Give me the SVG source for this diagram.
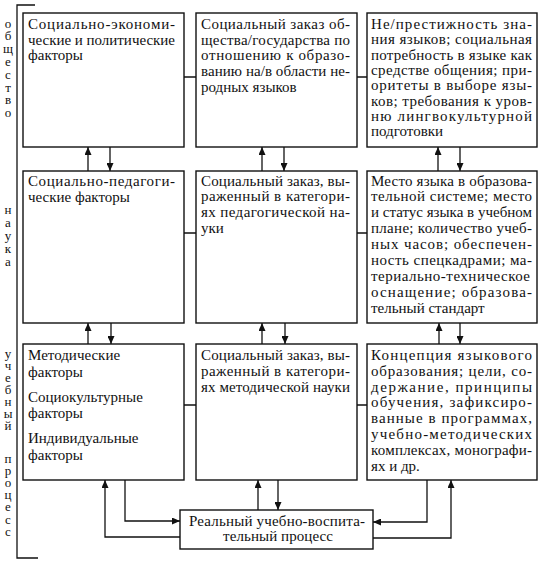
<svg xmlns="http://www.w3.org/2000/svg" width="542" height="564" viewBox="0 0 542 564">
<defs>
<style>
.box{fill:#fff;stroke:#111;stroke-width:1.4}
.ln{fill:none;stroke:#111;stroke-width:1.3}
text{font-family:"Liberation Serif","Times New Roman",serif;font-size:15px;fill:#111}
.v{font-size:13px;writing-mode:vertical-rl;text-orientation:upright}
</style>
<marker id="ah" markerUnits="userSpaceOnUse" markerWidth="8" markerHeight="7" refX="8" refY="3.5" orient="auto">
<path d="M0,0 L8,3.5 L0,7 z" fill="#111"/>
</marker>
</defs>
<rect width="542" height="564" fill="#fff"/>

<g id="side">
<path class="ln" d="M35,5 H17 V558 H38"/>
<text class="v" x="8" y="15.5" letter-spacing="-2.2">общество</text>
<text class="v" x="8" y="201.5" letter-spacing="-2">наука</text>
<text class="v" x="8" y="345.5" letter-spacing="-3">учебный</text>
<text class="v" x="8" y="450.5" letter-spacing="-2.8">процесс</text>
</g>

<g id="connectors">
<path class="ln" d="M184,77 H196 M357,77 H367 M184,233 H196 M357,233 H367 M184,405 H196 M357,405 H367"/>
<path class="ln" d="M88,171 V147" marker-end="url(#ah)"/>
<path class="ln" d="M110,147 V171" marker-end="url(#ah)"/>
<path class="ln" d="M262,171 V147" marker-end="url(#ah)"/>
<path class="ln" d="M284,147 V171" marker-end="url(#ah)"/>
<path class="ln" d="M438,171 V147" marker-end="url(#ah)"/>
<path class="ln" d="M460,147 V171" marker-end="url(#ah)"/>
<path class="ln" d="M88,344 V323" marker-end="url(#ah)"/>
<path class="ln" d="M111,323 V344" marker-end="url(#ah)"/>
<path class="ln" d="M262,344 V323" marker-end="url(#ah)"/>
<path class="ln" d="M285,323 V344" marker-end="url(#ah)"/>
<path class="ln" d="M439,344 V323" marker-end="url(#ah)"/>
<path class="ln" d="M460,323 V344" marker-end="url(#ah)"/>
<path class="ln" d="M125,480 V521 H180" marker-end="url(#ah)"/>
<path class="ln" d="M180,537 H105 V480" marker-end="url(#ah)"/>
<path class="ln" d="M258,510 V480" marker-end="url(#ah)"/>
<path class="ln" d="M278,480 V510" marker-end="url(#ah)"/>
<path class="ln" d="M427,480 V522 H373" marker-end="url(#ah)"/>
<path class="ln" d="M373,538 H451 V480" marker-end="url(#ah)"/>
</g>

<g id="n1">
<rect class="box" x="23" y="13" width="161" height="134"/>
<text x="28" y="29" textLength="147" lengthAdjust="spacing">Социально-экономи-</text>
<text x="28" y="44.5" textLength="147" lengthAdjust="spacing">ческие и политические</text>
<text x="28" y="60">факторы</text>
</g>

<g id="n2">
<rect class="box" x="196" y="13" width="161" height="134"/>
<text x="201" y="29" textLength="149" lengthAdjust="spacing">Социальный заказ об-</text>
<text x="201" y="44.7" textLength="149" lengthAdjust="spacing">щества/государства по</text>
<text x="201" y="60.4" textLength="149" lengthAdjust="spacing">отношению к образо-</text>
<text x="201" y="76.1" textLength="149" lengthAdjust="spacing">ванию на/в области не-</text>
<text x="201" y="91.8">родных языков</text>
</g>

<g id="n3">
<rect class="box" x="367" y="13" width="170" height="134"/>
<text x="371" y="29" textLength="161" lengthAdjust="spacing">Не/престижность зна-</text>
<text x="371" y="44.3" textLength="161" lengthAdjust="spacing">ния языков; социальная</text>
<text x="371" y="59.6" textLength="161" lengthAdjust="spacing">потребность в языке как</text>
<text x="371" y="74.9" textLength="161" lengthAdjust="spacing">средстве общения; при-</text>
<text x="371" y="90.2" textLength="161" lengthAdjust="spacing">оритеты в выборе язы-</text>
<text x="371" y="105.5" textLength="161" lengthAdjust="spacing">ков; требования к уров-</text>
<text x="371" y="120.8" textLength="161" lengthAdjust="spacing">ню лингвокультурной</text>
<text x="371" y="136.1">подготовки</text>
</g>

<g id="n4">
<rect class="box" x="23" y="171" width="161" height="152"/>
<text x="28" y="186" textLength="147" lengthAdjust="spacing">Социально-педагоги-</text>
<text x="28" y="201.5">ческие факторы</text>
</g>

<g id="n5">
<rect class="box" x="196" y="171" width="161" height="152"/>
<text x="201" y="185.5" textLength="149" lengthAdjust="spacing">Социальный заказ, вы-</text>
<text x="201" y="201.3" textLength="149" lengthAdjust="spacing">раженный в категори-</text>
<text x="201" y="217.1" textLength="149" lengthAdjust="spacing">ях педагогической на-</text>
<text x="201" y="232.9">уки</text>
</g>

<g id="n6">
<rect class="box" x="367" y="171" width="170" height="152"/>
<text x="371" y="185.5" textLength="161" lengthAdjust="spacing">Место языка в образова-</text>
<text x="371" y="201.4" textLength="161" lengthAdjust="spacing">тельной системе; место</text>
<text x="371" y="217.3" textLength="161" lengthAdjust="spacing">и статус языка в учебном</text>
<text x="371" y="233.2" textLength="161" lengthAdjust="spacing">плане; количество учеб-</text>
<text x="371" y="249.1" textLength="161" lengthAdjust="spacing">ных часов; обеспечен-</text>
<text x="371" y="265" textLength="161" lengthAdjust="spacing">ность спецкадрами; ма-</text>
<text x="371" y="280.9" textLength="159" lengthAdjust="spacing">териально-техническое</text>
<text x="371" y="296.8" textLength="161" lengthAdjust="spacing">оснащение; образова-</text>
<text x="371" y="312.7">тельный стандарт</text>
</g>

<g id="n7">
<rect class="box" x="23" y="344" width="161" height="136"/>
<text x="28" y="360">Методические</text>
<text x="28" y="377">факторы</text>
<text x="28" y="402">Социокультурные</text>
<text x="28" y="418">факторы</text>
<text x="28" y="443">Индивидуальные</text>
<text x="28" y="460">факторы</text>
</g>

<g id="n8">
<rect class="box" x="196" y="344" width="161" height="136"/>
<text x="201" y="360" textLength="149" lengthAdjust="spacing">Социальный заказ, вы-</text>
<text x="201" y="376" textLength="149" lengthAdjust="spacing">раженный в категори-</text>
<text x="201" y="392" textLength="149" lengthAdjust="spacing">ях методической науки</text>
</g>

<g id="n9">
<rect class="box" x="367" y="344" width="170" height="136"/>
<text x="371" y="360" textLength="161" lengthAdjust="spacing">Концепция языкового</text>
<text x="371" y="375.8" textLength="161" lengthAdjust="spacing">образования; цели, со-</text>
<text x="371" y="391.6" textLength="161" lengthAdjust="spacing">держание, принципы</text>
<text x="371" y="407.4" textLength="161" lengthAdjust="spacing">обучения, зафиксиро-</text>
<text x="371" y="423.2" textLength="161" lengthAdjust="spacing">ванные в программах,</text>
<text x="371" y="439" textLength="161" lengthAdjust="spacing">учебно-методических</text>
<text x="371" y="454.8" textLength="161" lengthAdjust="spacing">комплексах, монографи-</text>
<text x="371" y="470.6">ях и др.</text>
</g>

<g id="n10">
<rect class="box" x="180" y="510" width="193" height="39"/>
<text x="189" y="525.5" textLength="176" lengthAdjust="spacing">Реальный учебно-воспита-</text>
<text x="223" y="541" textLength="110" lengthAdjust="spacing">тельный процесс</text>
</g>
</svg>
